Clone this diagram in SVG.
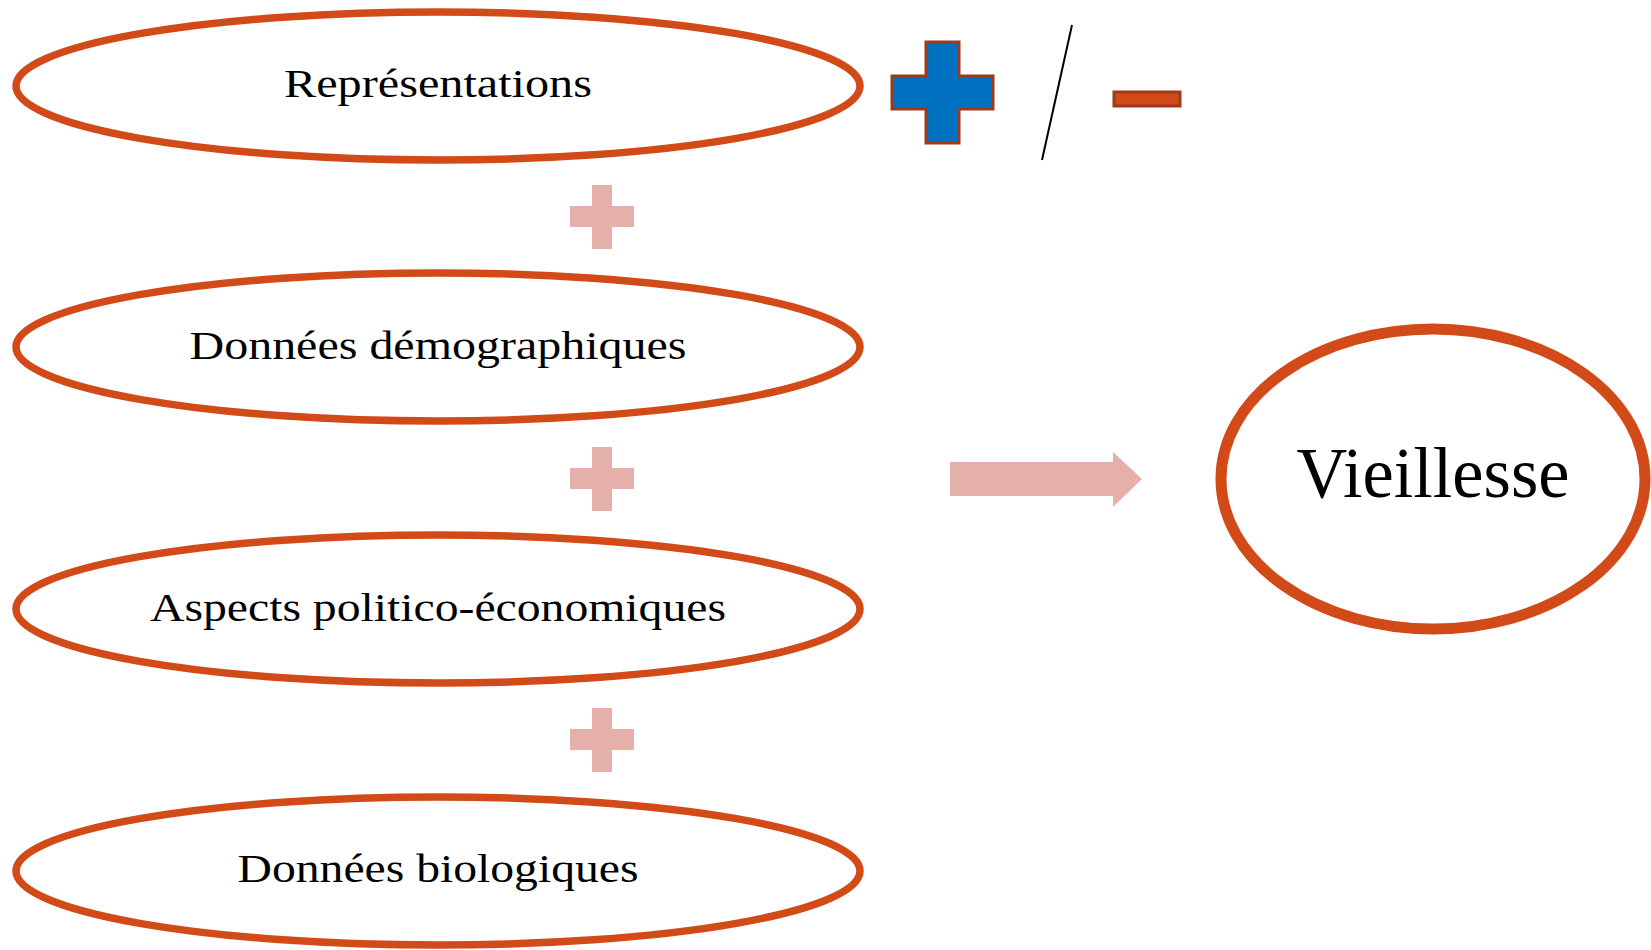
<svg xmlns="http://www.w3.org/2000/svg" width="1651" height="950" viewBox="0 0 1651 950">
<style>
.el{fill:#fff;stroke:#D24A18;stroke-width:7.5}
.lbl{font-family:"Liberation Serif",serif;font-size:41px;fill:#000;text-anchor:middle}
.pp{fill:#E6B0AA}
</style>
<rect width="1651" height="950" fill="#fff"/>
<g id="n1"><ellipse class="el" cx="438" cy="86" rx="422" ry="74"/><text class="lbl" x="438" y="97" textLength="308" lengthAdjust="spacingAndGlyphs">Représentations</text></g>
<g id="n2"><ellipse class="el" cx="438" cy="347" rx="422" ry="74"/><text class="lbl" x="438" y="359" textLength="497" lengthAdjust="spacingAndGlyphs">Données démographiques</text></g>
<g id="n3"><ellipse class="el" cx="438" cy="609" rx="422" ry="74"/><text class="lbl" x="438" y="621" textLength="576" lengthAdjust="spacingAndGlyphs">Aspects politico-économiques</text></g>
<g id="n4"><ellipse class="el" cx="438" cy="871" rx="422" ry="74"/><text class="lbl" x="438" y="882" textLength="401" lengthAdjust="spacingAndGlyphs">Données biologiques</text></g>
<g id="n5"><ellipse cx="1433" cy="479" rx="212" ry="150" fill="#fff" stroke="#D24A18" stroke-width="11"/><text x="1433" y="497" font-family="Liberation Serif, serif" font-size="72" text-anchor="middle" textLength="273" lengthAdjust="spacingAndGlyphs">Vieillesse</text></g>
<g id="plusminus">
<path d="M926,42H959V76H993V109H959V143H926V109H892V76H926Z" fill="#0070C0" stroke="#9C3A1B" stroke-width="3"/>
<line x1="1072" y1="25" x2="1042" y2="160" stroke="#000" stroke-width="2"/>
<rect x="1114" y="92" width="66" height="14" fill="#D24A18" stroke="#9C3A1B" stroke-width="3"/>
</g>
<g id="connectors">
<path class="pp" d="M592,185H612V206H634V227H612V249H592V227H570V206H592Z"/>
<path class="pp" d="M592,447H612V468H634V489H612V511H592V489H570V468H592Z"/>
<path class="pp" d="M592,708H612V729H634V750H612V772H592V750H570V729H592Z"/>
<path class="pp" d="M950,462H1113V452L1142,479L1113,507V496H950Z"/>
</g>
</svg>
